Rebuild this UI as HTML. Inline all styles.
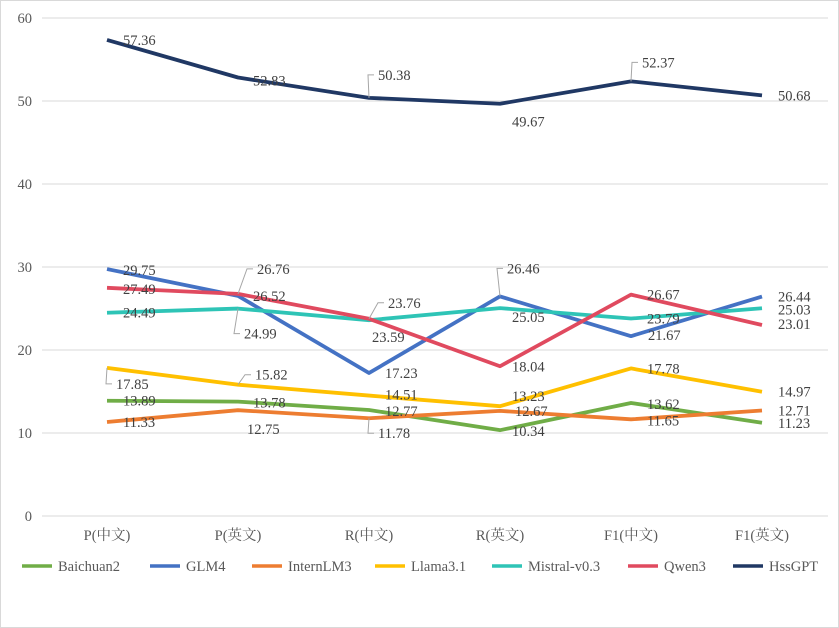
<!DOCTYPE html>
<html><head><meta charset="utf-8"><style>
body{margin:0;background:#fff}
svg{display:block;font-family:"Liberation Serif","Noto Serif CJK SC",serif}
</style></head><body>
<svg id="c" width="839" height="628">
<rect x="0.5" y="0.5" width="838" height="627" fill="#fff" stroke="#d9d9d9"/>
<g id="grid"></g><g id="lines"></g><g id="labels"></g><g id="legend"></g>
</svg>
<script>
const categories=["P(中文)","P(英文)","R(中文)","R(英文)","F1(中文)","F1(英文)"];
const yTicks=[0,10,20,30,40,50,60];
const seriesNames=["Baichuan2","GLM4","InternLM3","Llama3.1","Mistral-v0.3","Qwen3","HssGPT"];
const baichuan2=[13.89,13.78,12.77,10.34,13.62,11.23];
const glm4=[29.75,26.52,17.23,26.46,21.67,26.44];
const internlm3=[11.33,12.75,11.78,12.67,11.65,12.71];
const llama31=[17.85,15.82,14.51,13.23,17.78,14.97];
const mistral=[24.49,24.99,23.59,25.05,23.79,25.03];
const qwen3=[27.49,26.76,23.76,18.04,26.67,23.01];
const hssgpt=[57.36,52.83,50.38,49.67,52.37,50.68];
const allSeries=[baichuan2,glm4,internlm3,llama31,mistral,qwen3,hssgpt];
const colors=["#70ad47","#4472c4","#ed7d31","#ffc000","#2ec4b6","#e04a5f","#203864"];
// label offsets [dx,dy,leader]
const offs=[
 [[16,0],[15,1],[16,1],[12,1],[16,1],[16,0]],
 [[16,1],[15,0],[16,0],[5,-28,1],[17,-1],[16,0]],
 [[16,0],[9,19],[7,15,1],[15,0],[16,1],[16,0]],
 [[7,16,1],[15,-10,1],[16,-1],[12,-10],[16,0],[16,0]],
 [[16,0],[4,25,1],[3,17],[12,9],[16,0],[16,1]],
 [[16,1],[17,-25,1],[17,-16,1],[12,0],[16,0],[16,-1]],
 [[16,0],[15,3],[7,-23,1],[12,18],[9,-19,1],[16,0]]
];
const X=i=>107+i*131, Y=v=>516-v*8.3;
const NS="http://www.w3.org/2000/svg";
function mk(t,p,a){const e=document.createElementNS(NS,t);for(const k in a)e.setAttribute(k,a[k]);p.appendChild(e);return e;}
const g=document.getElementById('grid'),L=document.getElementById('lines'),Lb=document.getElementById('labels'),Lg=document.getElementById('legend');
yTicks.forEach(t=>{
 const l=mk('line',g,{x1:42,x2:828,y1:Y(t),y2:Y(t),stroke:'#d9d9d9'});
 
 const tx=mk('text',g,{x:32,y:Y(t)+5,'text-anchor':'end','font-size':14.5,fill:'#595959'});tx.textContent=t;
 
});
categories.forEach((c,i)=>{
 const tx=mk('text',g,{x:X(i),y:540,'text-anchor':'middle','font-size':14.5,fill:'#595959'});tx.textContent=c;
 
});
allSeries.forEach((s,k)=>{
 const p=mk('polyline',L,{points:s.map((v,i)=>X(i)+','+Y(v)).join(' '),fill:'none',stroke:colors[k],'stroke-width':3.8,'stroke-linejoin':'round'});
 
});
allSeries.forEach((s,k)=>{
 s.forEach((v,i)=>{
  const o=offs[k][i],x=X(i),y=Y(v),lx=x+o[0],ly=y+o[1];
  if(o[2]){const ex=lx-2;const ln=mk('polyline',Lb,{points:`${x},${y} ${ex-6},${ly} ${ex},${ly}`,fill:'none',stroke:'#a6a6a6','stroke-width':1});
   }
  const t=mk('text',Lb,{x:lx+(o[2]?2:0),y:ly+5,'font-size':14.5,fill:'#404040'});t.textContent=v.toFixed(2);
  
 });
});
const legX=[22,150,252,375,492,628,733];
seriesNames.forEach((n,k)=>{
 const l=mk('line',Lg,{x1:legX[k],x2:legX[k]+30,y1:566,y2:566,stroke:colors[k],'stroke-width':3.5});
 
 const t=mk('text',Lg,{x:legX[k]+36,y:571,'font-size':14.5,fill:'#595959'});t.textContent=n;
 
});
</script>
</body></html>
